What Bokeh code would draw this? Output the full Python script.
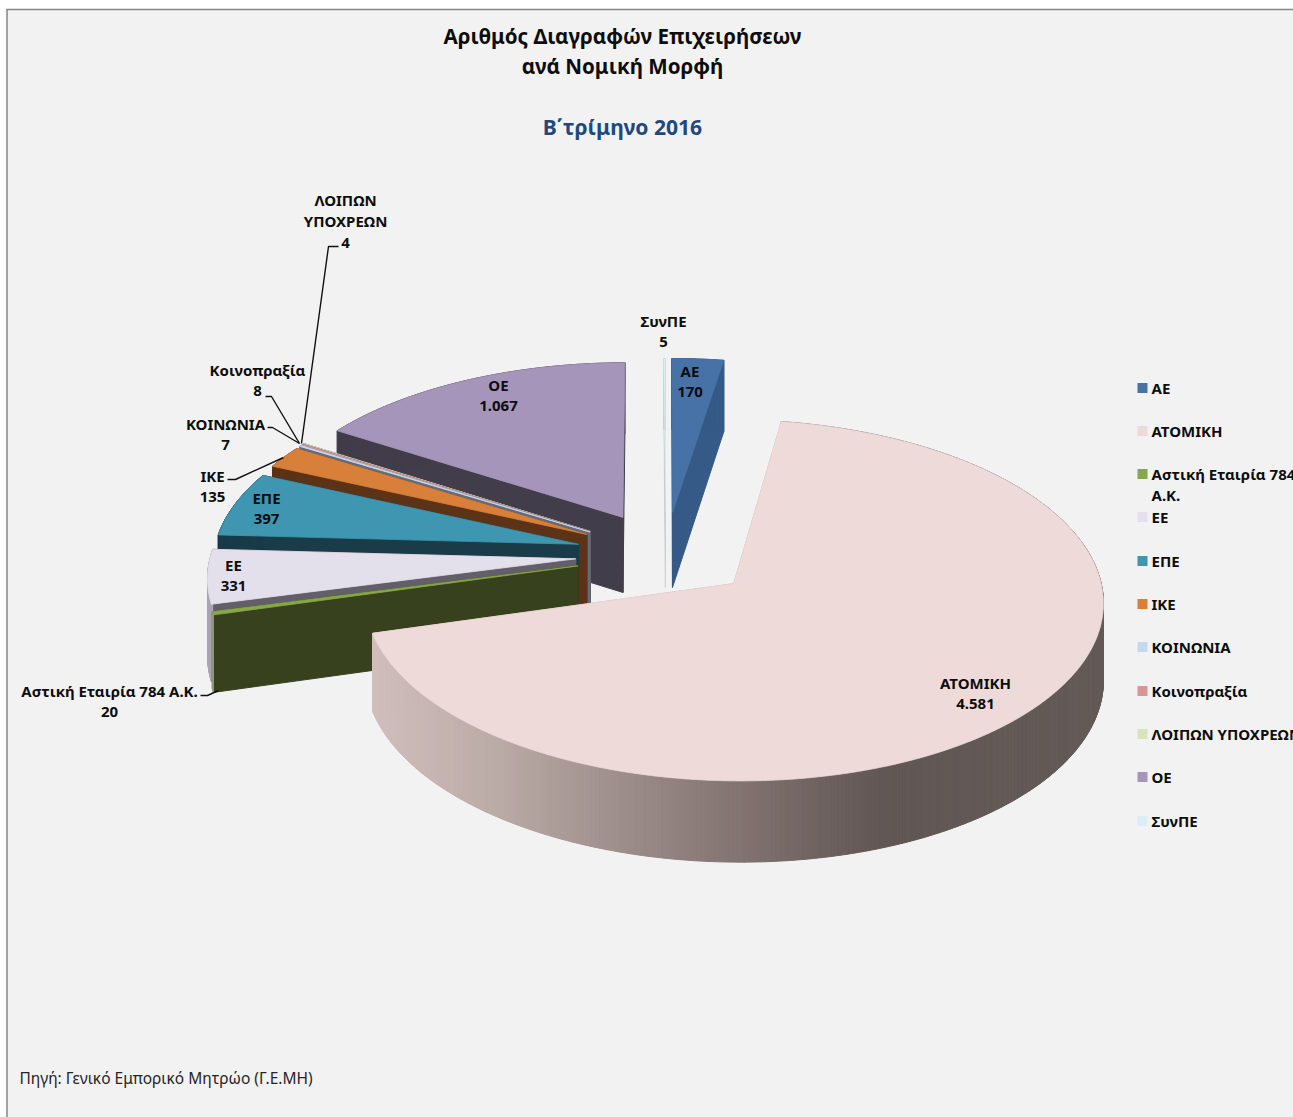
import math
from bokeh.plotting import figure
from bokeh.core.properties import value
from bokeh.embed import file_html
from bokeh.resources import INLINE

categories = ["ΑΕ", "ΑΤΟΜΙΚΗ", "Αστική Εταιρία 784 Α.Κ.", "ΕΕ", "ΕΠΕ", "ΙΚΕ", "ΚΟΙΝΩΝΙΑ",
              "Κοινοπραξία", "ΛΟΙΠΩΝ ΥΠΟΧΡΕΩΝ", "ΟΕ", "ΣυνΠΕ"]
values = [170, 4581, 20, 331, 397, 135, 7, 8, 4, 1067, 5]

top_colors = ["#4672a8", "#eedad8", "#87a849", "#e3dfeb", "#3f96b0", "#d87f3a", "#c6d8f0",
              "#d99694", "#d8e4bc", "#a695ba", "#dbeef4"]
side_colors = ["#355a88", "#c9b4b2", "#38411d", "#635f69", "#1a3b48", "#5c3317", "#5f6d80",
               "#6c4a4a", "#6c7260", "#423d4a", "#b4bcbc"]
rim_colors = ["#355a88", None, "#8f9a7a", "#aaa5b5", "#1a3b48", "#5c3317", "#5f6d80",
              "#6c4a4a", "#6c7260", "#423d4a", "#b4bcbc"]
paint_order = [9, 10, 0, 8, 7, 6, 5, 4, 3, 2, 1]

# pie geometry (screen pixels)
CX, CY, RADIUS, BIG_RADIUS, EXPLODE, SQUASH, DEPTH, THICK = 665, 554, 365, 362, 90, 0.48, 0.00025, 76

def project(wx, wy):
    f = 1 / (1 + DEPTH * wy)
    return CX + wx * f, CY - SQUASH * wy * f, f

def point(mid, a, r=RADIUS):
    wx = EXPLODE * math.cos(mid) + r * math.cos(a)
    wy = EXPLODE * math.sin(mid) + r * math.sin(a)
    return project(wx, wy)

def down(f):
    return THICK * f ** 0.6

RIM_STOPS = [(375, (208, 190, 188)), (500, (186, 170, 165)), (650, (150, 135, 132)),
             (800, (115, 102, 100)), (880, (97, 87, 84)), (1105, (100, 90, 87))]

def rim_shade(x):
    if x <= RIM_STOPS[0][0]:
        return RIM_STOPS[0][1]
    for (x0, c0), (x1, c1) in zip(RIM_STOPS, RIM_STOPS[1:]):
        if x <= x1:
            t = (x - x0) / (x1 - x0)
            return tuple(round(c0[i] + (c1[i] - c0[i]) * t) for i in range(3))
    return RIM_STOPS[-1][1]

total = sum(values)
spans = []
cum = 0
for v in values:
    a0 = math.pi / 2 - 2 * math.pi * cum / total
    cum += v
    a1 = math.pi / 2 - 2 * math.pi * cum / total
    spans.append((a0, a1))

layers = []
for i in paint_order:
    a0, a1 = spans[i]
    mid = (a0 + a1) / 2
    n = max(2, int(abs(a0 - a1) / math.radians(0.35)))
    angles = [a0 + (a1 - a0) * j / n for j in range(n + 1)]
    ap = point(mid, 0, 0)
    radius = BIG_RADIUS if values[i] == max(values) else RADIUS
    arc = [point(mid, a, radius) for a in angles]
    xs, ys, cs = [], [], []
    for e in (arc[0], arc[-1]):
        xs.append([ap[0], e[0], e[0], ap[0]])
        ys.append([ap[1], e[1], e[1] + down(e[2]), ap[1] + down(ap[2])])
        cs.append(side_colors[i])
    for p0, p1 in zip(arc, arc[1:]):
        if rim_colors[i] is None:
            r, g, b = rim_shade((p0[0] + p1[0]) / 2)
            col = "#%02x%02x%02x" % (r, g, b)
        else:
            col = rim_colors[i]
        xs.append([p0[0], p1[0], p1[0], p0[0]])
        ys.append([p0[1], p1[1], p1[1] + down(p1[2]), p0[1] + down(p0[2])])
        cs.append(col)
    stroke = 0.2 if categories[i] == "ΣυνΠΕ" else 1.0
    layers.append((xs, ys, cs, [ap[0]] + [q[0] for q in arc], [ap[1]] + [q[1] for q in arc],
                   top_colors[i], stroke))

W, H = 1293, 1117
p = figure(width=W, height=H, x_range=(0, W), y_range=(H, 0), output_backend="svg",
           toolbar_location=None, min_border=0, background_fill_color="#ffffff",
           border_fill_color="#ffffff")
p.xaxis.visible = False
p.yaxis.visible = False
p.grid.visible = False
p.outline_line_color = None

# chart area and frame
p.quad(left=[6.5], right=[W], top=[9], bottom=[H], fill_color="#f2f2f2", line_color=None)
p.line([6.5, 6.5], [8.5, H], line_color="#868686", line_width=1.5)
p.line([6, W], [9, 9], line_color="#868686", line_width=1.5)

for xs, ys, cs, tx_, ty_, col, stroke in layers:
    p.patches(xs, ys, fill_color=cs, line_color=cs, line_width=stroke)
    p.patch(tx_, ty_, fill_color=col, line_color=col, line_width=min(stroke, 0.8))

FONT = value("Noto Sans")

# leader lines
leaders = [
    ([338, 328, 301], [246, 246, 443]),
    ([265, 271, 299], [396, 396, 443]),
    ([267, 272, 299], [427, 427, 443]),
    ([227, 235, 283], [479, 479, 457]),
    ([200, 207, 218], [695, 695, 690]),
]
for lx, ly in leaders:
    p.line(lx, ly, line_color="#111111", line_width=1.4)

def fmt(v):
    return f"{v:,}".replace(",", ".")

label_lines = {
    0: (["ΑΕ"], 689.5, 370), 1: (["ΑΤΟΜΙΚΗ"], 975, 682), 2: (["Αστική Εταιρία 784 Α.Κ."], 109, 690),
    3: (["ΕΕ"], 233, 564), 4: (["ΕΠΕ"], 266, 497), 5: (["ΙΚΕ"], 212, 475),
    6: (["ΚΟΙΝΩΝΙΑ"], 225, 423), 7: (["Κοινοπραξία"], 257, 369),
    8: (["ΛΟΙΠΩΝ", "ΥΠΟΧΡΕΩΝ"], 345, 199), 9: (["ΟΕ"], 498, 384), 10: (["ΣυνΠΕ"], 663, 320),
}
tx, ty, tt = [], [], []
for i, (lines, x, y) in label_lines.items():
    rows = lines + [fmt(values[i])]
    for k, t in enumerate(rows):
        tx.append(x); ty.append(y + k * 21.5); tt.append(t)
p.text(tx, ty, text=tt, text_font=FONT, text_font_style="bold", text_font_size="15px",
       text_align="center", text_baseline="middle", text_color="#0d0d0d")

# titles
p.text([622, 622], [35.5, 65.5], text=["Αριθμός Διαγραφών Επιχειρήσεων", "ανά Νομική Μορφή"],
       text_font=FONT, text_font_style="bold", text_font_size="20.6px", text_align="center",
       text_baseline="middle", text_color="#0d0d0d")
p.text([622], [125.5], text=["Β΄τρίμηνο 2016"], text_font=FONT, text_font_style="bold",
       text_font_size="21.1px", text_align="center", text_baseline="middle", text_color="#1f497d")
p.text([19], [1077], text=["Πηγή: Γενικό Εμπορικό Μητρώο (Γ.Ε.ΜΗ)"], text_font=FONT,
       text_font_size="15.5px", text_align="left", text_baseline="middle", text_color="#262626")

# legend
legend_rows = [388, 431, 474, 517, 561, 604, 647, 691, 734, 777, 821]
p.rect([1142] * 11, [r - 0.5 for r in legend_rows], width=10, height=10, fill_color=top_colors, line_color=None)
leg_text = ["ΑΕ", "ΑΤΟΜΙΚΗ", "Αστική Εταιρία 784", "ΕΕ", "ΕΠΕ", "ΙΚΕ", "ΚΟΙΝΩΝΙΑ", "Κοινοπραξία",
            "ΛΟΙΠΩΝ ΥΠΟΧΡΕΩΝ", "ΟΕ", "ΣυνΠΕ"]
p.text([1151] * 12, [r - 1 for r in legend_rows] + [494], text=leg_text + ["Α.Κ."], text_font=FONT,
       text_font_style="bold", text_font_size="15px", text_align="left",
       text_baseline="middle", text_color="#0d0d0d")

open("out.html", "w").write(file_html(p, INLINE))
